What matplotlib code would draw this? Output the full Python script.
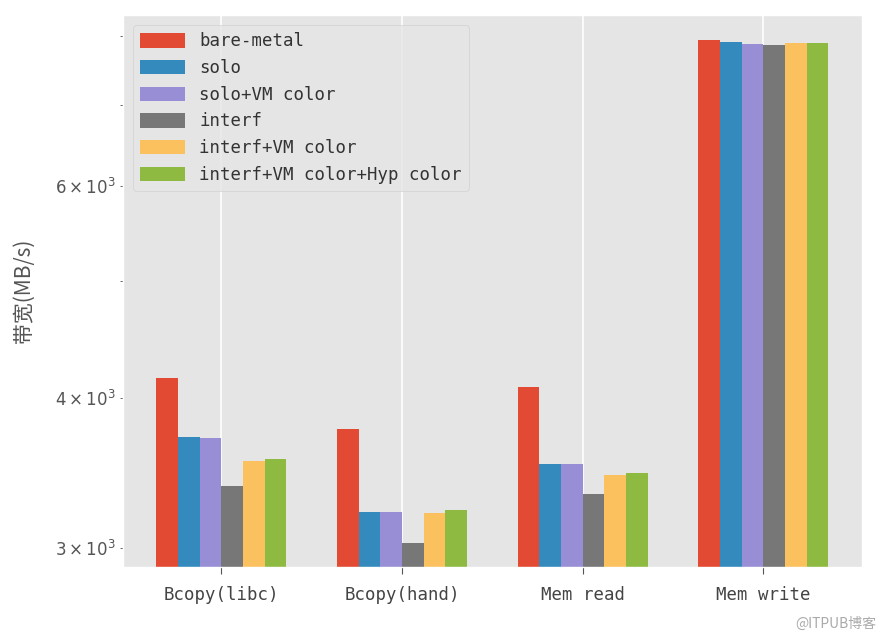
import numpy as np
import matplotlib
matplotlib.use("Agg")
import matplotlib.pyplot as plt

plt.style.use("ggplot")

categories = ["Bcopy(libc)", "Bcopy(hand)", "Mem read", "Mem write"]
series_names = ["bare-metal", "solo", "solo+VM color", "interf",
                "interf+VM color", "interf+VM color+Hyp color"]
bare_metal = [4156, 3766, 4087, 7933]
solo = [3709, 3216, 3525, 7901]
solo_vm = [3700, 3216, 3525, 7881]
interf = [3381, 3027, 3330, 7861]
interf_vm = [3543, 3211, 3450, 7885]
interf_vm_hyp = [3555, 3226, 3466, 7885]
series_values = [bare_metal, solo, solo_vm, interf, interf_vm, interf_vm_hyp]
colors = ["#E24A33", "#348ABD", "#988ED5", "#777777", "#FBC15E", "#8EBA42"]

fig = plt.figure(figsize=(8.9, 6.39), dpi=100)
ax = fig.add_axes([0.138, 0.1127, 0.8305, 0.8638])

x = np.arange(len(categories))
w = 0.12
for i, (name, vals) in enumerate(zip(series_names, series_values)):
    ax.bar(x + (i - 2.5) * w, vals, width=w, color=colors[i], label=name,
           linewidth=0)

ax.set_yscale("log")
ax.set_ylim(2893, 8323)
ax.set_xticks(x)
ax.set_xticklabels(categories, family=["DejaVu Sans Mono", "Noto Sans CJK SC"],
                   fontsize=12.5)
ax.grid(False, axis="y", which="both")
ax.grid(True, axis="x", color="white", linewidth=1.2)
ax.tick_params(axis="y", which="both", labelsize=12, colors="#555555")
ax.tick_params(axis="x", colors="#555555", labelcolor="#444444", pad=9,
               length=5, direction="out")
ax.set_ylabel("带宽(MB/s)", family=["Noto Sans CJK SC", "DejaVu Sans"],
              fontsize=15, color="#555555", labelpad=14)

leg = ax.legend(loc="upper left", prop={"family": "DejaVu Sans Mono", "size": 12.5},
                handlelength=2.6, handleheight=0.9, labelspacing=0.5,
                borderaxespad=0.6, framealpha=0.8)
for t in leg.get_texts():
    t.set_color("#333333")

fig.text(0.985, 0.012, "@ITPUB博客", ha="right", va="bottom", fontsize=10,
         color="#aaaaaa", family=["Noto Sans CJK SC", "DejaVu Sans"])

fig.savefig("out.png", dpi=100, facecolor="white")
